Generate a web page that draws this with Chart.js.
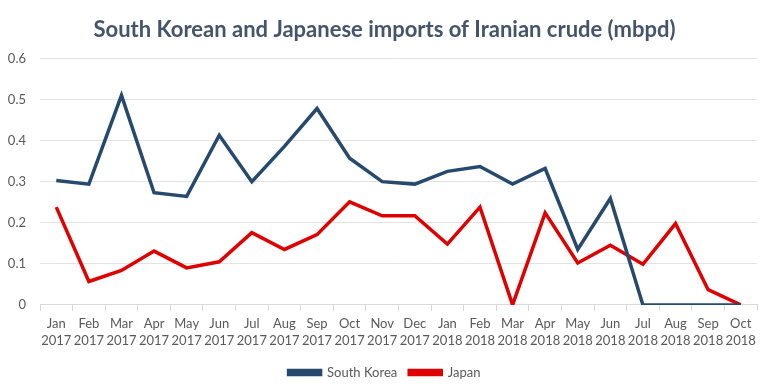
<!DOCTYPE html>
<html>
<head>
<meta charset="utf-8">
<script src="https://cdn.jsdelivr.net/npm/chart.js@4"></script>
<style>
  html, body { margin: 0; padding: 0; background: #fff; }
  #wrap { width: 763px; height: 391px; position: relative; }
</style>
</head>
<body>
<div id="wrap"><canvas id="importsChart"></canvas></div>
<script>
const months = ["Jan","Feb","Mar","Apr","May","Jun","Jul","Aug","Sep","Oct","Nov","Dec",
                "Jan","Feb","Mar","Apr","May","Jun","Jul","Aug","Sep","Oct"];
const years = ["2017","2017","2017","2017","2017","2017","2017","2017","2017","2017","2017","2017",
               "2018","2018","2018","2018","2018","2018","2018","2018","2018","2018"];
const southKorea = [0.303, 0.294, 0.510, 0.273, 0.264, 0.413, 0.300, 0.386, 0.478, 0.357, 0.300, 0.294,
                    0.325, 0.337, 0.294, 0.332, 0.135, 0.259, 0, 0, 0, 0];
const japan = [0.238, 0.057, 0.084, 0.131, 0.090, 0.105, 0.176, 0.135, 0.171, 0.251, 0.217, 0.217,
               0.148, 0.238, 0, 0.224, 0.102, 0.145, 0.099, 0.198, 0.037, 0];
const yTicks = [0, 0.1, 0.2, 0.3, 0.4, 0.5, 0.6];

const labels = months.map((m, i) => [m, years[i]]);
const fontFamily = "Lato, 'Open Sans', sans-serif";

new Chart(document.getElementById("importsChart").getContext("2d"), {
    type: "line",
    data: {
        labels: labels,
        datasets: [
            { label: "South Korea", data: southKorea, borderColor: "#264a6e", backgroundColor: "#264a6e",
              borderWidth: 3.5, pointRadius: 0, tension: 0 },
            { label: "Japan", data: japan, borderColor: "#e00000", backgroundColor: "#e00000",
              borderWidth: 3.5, pointRadius: 0, tension: 0 }
        ]
    },
    options: {
        responsive: true,
        maintainAspectRatio: false,
        animation: false,
        layout: { padding: { left: 6, right: 0, top: 4, bottom: 2 } },
        plugins: {
            title: {
                display: true,
                text: "South Korean and Japanese imports of Iranian crude (mbpd)",
                color: "#44546a",
                font: { family: fontFamily, size: 22, weight: "bold" },
                padding: { top: 13, bottom: 15 }
            },
            legend: {
                position: "bottom",
                labels: {
                    color: "#595959",
                    font: { family: fontFamily, size: 13 },
                    boxWidth: 32,
                    boxHeight: 4,
                    padding: 12
                }
            },
            tooltip: { enabled: false }
        },
        scales: {
            x: {
                offset: true,
                grid: { offset: true, drawOnChartArea: false, color: "#d9d9d9", tickLength: 6 },
                border: { color: "#d9d9d9" },
                ticks: { color: "#595959", font: { family: fontFamily, size: 13, lineHeight: 1.35 },
                         autoSkip: false, maxRotation: 0, minRotation: 0, padding: 4 }
            },
            y: {
                min: 0,
                max: 0.6,
                afterBuildTicks: (axis) => { axis.ticks = yTicks.map(v => ({ value: v })); },
                afterFit: (axis) => { axis.width = 34; },
                grid: { color: "#e3e3e3", drawTicks: false },
                border: { display: false },
                ticks: { color: "#595959", font: { family: fontFamily, size: 13 }, padding: 14,
                         callback: (v) => String(v) }
            },
            // empty right margin so the title and legend centre like the original
            yRight: {
                type: "linear",
                position: "right",
                grid: { display: false },
                border: { display: false },
                ticks: { display: false },
                afterFit: (axis) => { axis.width = 6; }
            }
        }
    }
});
</script>
</body>
</html>
